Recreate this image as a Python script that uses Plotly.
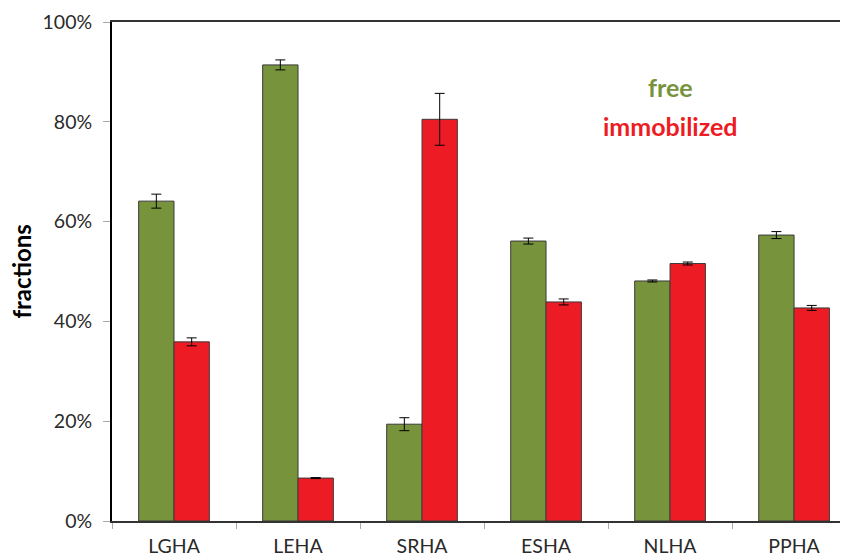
import plotly.graph_objects as go

categories = ["LGHA", "LEHA", "SRHA", "ESHA", "NLHA", "PPHA"]
free_vals = [64.1, 91.4, 19.4, 56.1, 48.1, 57.3]
free_err = [1.4, 1.0, 1.3, 0.6, 0.2, 0.7]
immob_vals = [35.9, 8.6, 80.5, 43.9, 51.6, 42.7]
immob_err = [0.8, 0.1, 5.2, 0.6, 0.3, 0.5]
y_ticks = [0, 20, 40, 60, 80, 100]
y_ticklabels = ["0%", "20%", "40%", "60%", "80%", "100%"]

GREEN = "#77933C"
RED = "#ED1C24"
FONT = "Lato, 'Open Sans', sans-serif"

fig = go.Figure()
fig.add_trace(go.Bar(
    x=categories, y=free_vals, name="free",
    marker=dict(color=GREEN, line=dict(color="#3a3a3a", width=1)),
    error_y=dict(type="data", array=free_err, color="black", thickness=1, width=5),
))
fig.add_trace(go.Bar(
    x=categories, y=immob_vals, name="immobilized",
    marker=dict(color=RED, line=dict(color="#3a3a3a", width=1)),
    error_y=dict(type="data", array=immob_err, color="black", thickness=1, width=5),
))

fig.add_annotation(x=0.7595, y=0.870, xref="paper", yref="paper", text="<b>free</b>",
                   showarrow=False, xanchor="center", yanchor="middle",
                   font=dict(family=FONT, size=25, color=GREEN))
fig.add_annotation(x=0.7595, y=0.792, xref="paper", yref="paper", text="<b>immobilized</b>",
                   showarrow=False, xanchor="center", yanchor="middle",
                   font=dict(family=FONT, size=25, color=RED))
fig.add_annotation(x=-0.1235, y=0.5, xref="paper", yref="paper", text="<b>fractions</b>",
                   textangle=-90, showarrow=False, xanchor="center", yanchor="middle",
                   font=dict(family=FONT, size=24, color="black"))

fig.update_layout(
    width=848, height=558,
    margin=dict(l=104, r=8, t=14, b=45, autoexpand=False),
    paper_bgcolor="white", plot_bgcolor="white",
    barmode="group", bargap=0.43, bargroupgap=0,
    showlegend=False,
    font=dict(family=FONT, size=19.5, color="#2a2a2a"),
)
fig.update_xaxes(
    range=[-0.5, 5.435], tickson="boundaries", ticks="outside", ticklen=6,
    tickcolor="#aaaaaa", showline=True, linecolor="#333333", linewidth=2,
    mirror=True, showgrid=False, tickfont=dict(size=19.5), automargin=False,
    ticklabelstandoff=7,
)
fig.update_yaxes(
    range=[0, 100], tickvals=y_ticks, ticktext=y_ticklabels, ticks="outside",
    ticklen=7, tickcolor="#aaaaaa", showline=True, linecolor="black", linewidth=2,
    showgrid=False, zeroline=False, tickfont=dict(size=19.5), automargin=False,
    ticklabelstandoff=7,
)

fig.write_html("out.html")
